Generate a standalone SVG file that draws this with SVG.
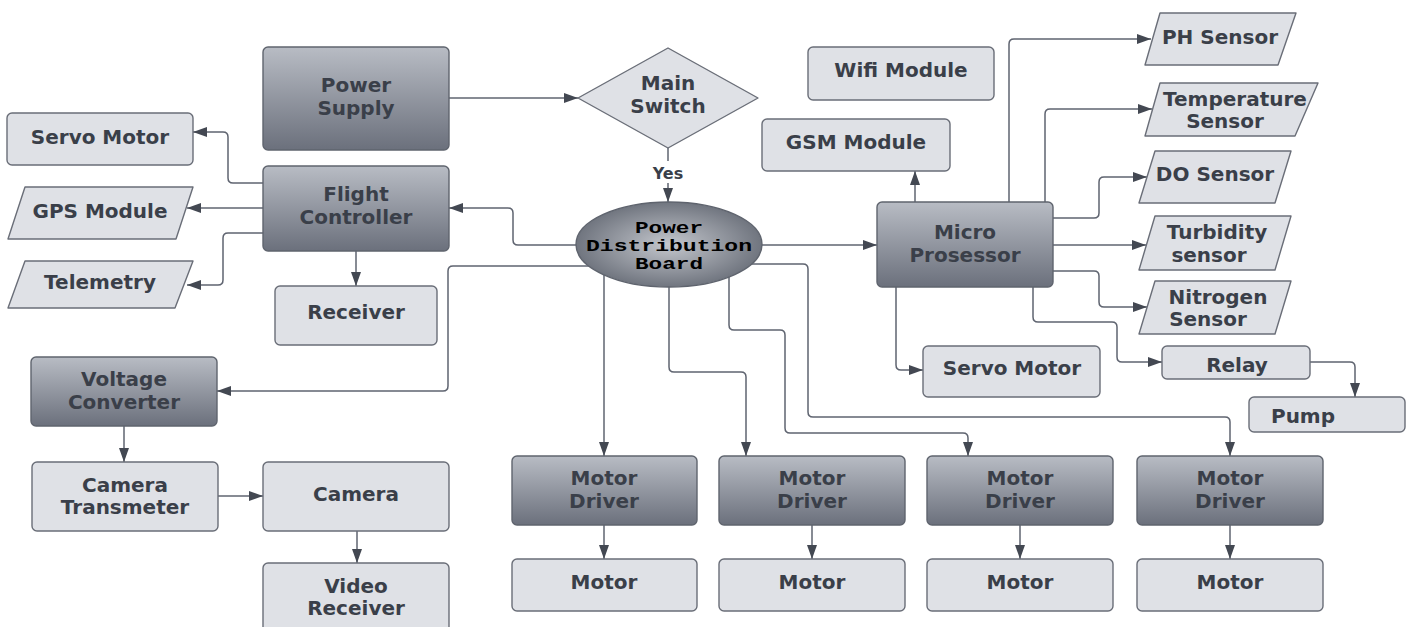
<svg xmlns="http://www.w3.org/2000/svg" width="1412" height="627" viewBox="0 0 1412 627">
  <defs>
    <linearGradient id="dark" x1="0" y1="0" x2="0" y2="1">
      <stop offset="0" stop-color="#b8bcc4"/>
      <stop offset="1" stop-color="#6b707c"/>
    </linearGradient>
    <radialGradient id="pdb" cx="0.5" cy="0.5" r="0.5">
      <stop offset="0" stop-color="#c4c7cd"/>
      <stop offset="1" stop-color="#70757f"/>
    </radialGradient>
    <marker id="arr" markerUnits="userSpaceOnUse" markerWidth="14" markerHeight="10" refX="14" refY="5" orient="auto">
      <path d="M0,0 L14,5 L0,10 z" fill="#434852"/>
    </marker>
    <style>
      .lt { fill: #dfe1e6; stroke: #6a6e78; stroke-width: 1.4; }
      .dk { fill: url(#dark); stroke: #5f646e; stroke-width: 1.4; }
      .t { font-family: "DejaVu Sans", "Liberation Sans", sans-serif; font-weight: bold; font-size: 20px; fill: #3a3f49; text-anchor: middle; }
      .m { font-family: "Liberation Mono", "DejaVu Sans Mono", monospace; font-weight: bold; font-size: 17px; fill: #000; text-anchor: middle; }
      .c { fill: none; stroke: #5f6470; stroke-width: 1.5; marker-end: url(#arr); }
    </style>
  </defs>
  <rect width="1412" height="627" fill="#ffffff"/>

  <!-- connectors -->
  <g id="connectors">
    <path class="c" d="M449,98 H578"/>
    <path class="c" d="M668,148 V202"/>
    <path class="c" d="M576,245 H518 Q513,245 513,240 V213 Q513,208 508,208 H449"/>
    <path class="c" d="M762,245 H877"/>
    <path class="c" d="M589,266 H453 Q448,266 448,271 V386 Q448,391 443,391 H217"/>
    <path class="c" d="M604,275 V456"/>
    <path class="c" d="M669,287 V367 Q669,372 674,372 H741 Q746,372 746,377 V456"/>
    <path class="c" d="M729,277 V325 Q729,330 734,330 H780 Q785,330 785,335 V428 Q785,433 790,433 H963 Q968,433 968,438 V456"/>
    <path class="c" d="M750,264 H803 Q808,264 808,269 V412 Q808,417 813,417 H1225 Q1230,417 1230,422 V456"/>
    <path class="c" d="M263,183 H233 Q228,183 228,178 V137 Q228,132 223,132 H193"/>
    <path class="c" d="M263,208 H187"/>
    <path class="c" d="M263,233 H228 Q223,233 223,238 V280 Q223,285 218,285 H187"/>
    <path class="c" d="M356,251 V286"/>
    <path class="c" d="M124,426 V462"/>
    <path class="c" d="M218,496 H263"/>
    <path class="c" d="M357,531 V563"/>
    <path class="c" d="M604,525 V559"/>
    <path class="c" d="M812,525 V559"/>
    <path class="c" d="M1020,525 V559"/>
    <path class="c" d="M1230,525 V559"/>
    <path class="c" d="M915,202 V171"/>
    <path class="c" d="M1009,202 V44 Q1009,39 1014,39 H1151"/>
    <path class="c" d="M1045,202 V114 Q1045,109 1050,109 H1152"/>
    <path class="c" d="M1053,218 H1094 Q1099,218 1099,213 V182 Q1099,177 1104,177 H1147"/>
    <path class="c" d="M1053,245 H1146"/>
    <path class="c" d="M1053,271 H1094 Q1099,271 1099,276 V302 Q1099,307 1104,307 H1147"/>
    <path class="c" d="M1033,287 V317 Q1033,322 1038,322 H1112 Q1117,322 1117,327 V357 Q1117,362 1122,362 H1162"/>
    <path class="c" d="M1310,362 H1350 Q1355,362 1355,367 V397"/>
    <path class="c" d="M896,287 V365 Q896,370 901,370 H923"/>
    <rect x="648" y="161" width="40" height="22" fill="#ffffff"/>
    <text x="668" y="179" class="t" style="font-size:16px">Yes</text>
  </g>

  <g id="power-supply">
    <rect class="dk" x="263" y="47" width="186" height="103" rx="5"/>
    <text class="t" x="356" y="92">Power</text>
    <text class="t" x="356" y="115">Supply</text>
  </g>
  <g id="main-switch">
    <path class="lt" d="M668,48 L758,98 L668,148 L578,98 Z" stroke-linejoin="round"/>
    <text class="t" x="668" y="90">Main</text>
    <text class="t" x="668" y="113">Switch</text>
  </g>
  <g id="wifi-module">
    <rect class="lt" x="808" y="47" width="186" height="53" rx="5"/>
    <text class="t" x="901" y="77">Wifi Module</text>
  </g>
  <g id="gsm-module">
    <rect class="lt" x="762" y="119" width="188" height="52" rx="5"/>
    <text class="t" x="856" y="149">GSM Module</text>
  </g>
  <g id="servo-motor-left">
    <rect class="lt" x="7" y="113" width="186" height="52" rx="5"/>
    <text class="t" x="100" y="144">Servo Motor</text>
  </g>
  <g id="flight-controller">
    <rect class="dk" x="263" y="166" width="186" height="85" rx="5"/>
    <text class="t" x="356" y="201">Flight</text>
    <text class="t" x="356" y="224">Controller</text>
  </g>
  <g id="gps-module">
    <path class="lt" d="M25,187 H193 L176,239 H8 Z" stroke-linejoin="round"/>
    <text class="t" x="100" y="218">GPS Module</text>
  </g>
  <g id="telemetry">
    <path class="lt" d="M25,261 H193 L175,308 H8 Z" stroke-linejoin="round"/>
    <text class="t" x="100" y="289">Telemetry</text>
  </g>
  <g id="receiver">
    <rect class="lt" x="275" y="286" width="162" height="59" rx="5"/>
    <text class="t" x="356" y="319">Receiver</text>
  </g>
  <g id="power-distribution-board">
    <ellipse cx="669" cy="244.5" rx="93" ry="42.5" fill="url(#pdb)" stroke="#5f646e" stroke-width="1.4"/>
    <text class="m" x="669" y="233" textLength="68" lengthAdjust="spacingAndGlyphs">Power</text>
    <text class="m" x="669" y="251" textLength="166" lengthAdjust="spacingAndGlyphs">Distribution</text>
    <text class="m" x="669" y="269" textLength="68" lengthAdjust="spacingAndGlyphs">Board</text>
  </g>
  <g id="micro-processor">
    <rect class="dk" x="877" y="202" width="176" height="85" rx="5"/>
    <text class="t" x="965" y="239">Micro</text>
    <text class="t" x="965" y="262">Prosessor</text>
  </g>
  <g id="ph-sensor">
    <path class="lt" d="M1160,13 H1296 L1278,65 H1145 Z" stroke-linejoin="round"/>
    <text class="t" x="1220" y="44">PH Sensor</text>
  </g>
  <g id="temperature-sensor">
    <path class="lt" d="M1160,83 H1318 L1295,136 H1145 Z" stroke-linejoin="round"/>
    <text class="t" x="1235" y="106">Temperature</text>
    <text class="t" x="1225" y="128">Sensor</text>
  </g>
  <g id="do-sensor">
    <path class="lt" d="M1155,151 H1291 L1275,203 H1139 Z" stroke-linejoin="round"/>
    <text class="t" x="1215" y="181">DO Sensor</text>
  </g>
  <g id="turbidity-sensor">
    <path class="lt" d="M1155,216 H1291 L1275,270 H1139 Z" stroke-linejoin="round"/>
    <text class="t" x="1217" y="239">Turbidity</text>
    <text class="t" x="1209" y="262">sensor</text>
  </g>
  <g id="nitrogen-sensor">
    <path class="lt" d="M1155,281 H1291 L1275,334 H1139 Z" stroke-linejoin="round"/>
    <text class="t" x="1218" y="304">Nitrogen</text>
    <text class="t" x="1208" y="326">Sensor</text>
  </g>
  <g id="relay">
    <rect class="lt" x="1162" y="346" width="148" height="33" rx="5"/>
    <text class="t" x="1237" y="372">Relay</text>
  </g>
  <g id="pump">
    <rect class="lt" x="1249" y="397" width="156" height="35" rx="5"/>
    <text class="t" x="1303" y="423">Pump</text>
  </g>
  <g id="servo-motor-right">
    <rect class="lt" x="923" y="346" width="177" height="51" rx="5"/>
    <text class="t" x="1012" y="375">Servo Motor</text>
  </g>
  <g id="voltage-converter">
    <rect class="dk" x="31" y="357" width="186" height="69" rx="5"/>
    <text class="t" x="124" y="386">Voltage</text>
    <text class="t" x="124" y="409">Converter</text>
  </g>
  <g id="camera-transmeter">
    <rect class="lt" x="32" y="462" width="186" height="69" rx="5"/>
    <text class="t" x="125" y="492">Camera</text>
    <text class="t" x="125" y="514">Transmeter</text>
  </g>
  <g id="camera">
    <rect class="lt" x="263" y="462" width="186" height="69" rx="5"/>
    <text class="t" x="356" y="501">Camera</text>
  </g>
  <g id="video-receiver">
    <rect class="lt" x="263" y="563" width="186" height="72" rx="5"/>
    <text class="t" x="356" y="593">Video</text>
    <text class="t" x="356" y="615">Receiver</text>
  </g>
  <g id="motor-driver-1">
    <rect class="dk" x="512" y="456" width="185" height="69" rx="5"/>
    <text class="t" x="604" y="485">Motor</text>
    <text class="t" x="604" y="508">Driver</text>
  </g>
  <g id="motor-driver-2">
    <rect class="dk" x="719" y="456" width="186" height="69" rx="5"/>
    <text class="t" x="812" y="485">Motor</text>
    <text class="t" x="812" y="508">Driver</text>
  </g>
  <g id="motor-driver-3">
    <rect class="dk" x="927" y="456" width="186" height="69" rx="5"/>
    <text class="t" x="1020" y="485">Motor</text>
    <text class="t" x="1020" y="508">Driver</text>
  </g>
  <g id="motor-driver-4">
    <rect class="dk" x="1137" y="456" width="186" height="69" rx="5"/>
    <text class="t" x="1230" y="485">Motor</text>
    <text class="t" x="1230" y="508">Driver</text>
  </g>
  <g id="motor-1">
    <rect class="lt" x="512" y="559" width="185" height="52" rx="5"/>
    <text class="t" x="604" y="589">Motor</text>
  </g>
  <g id="motor-2">
    <rect class="lt" x="719" y="559" width="186" height="52" rx="5"/>
    <text class="t" x="812" y="589">Motor</text>
  </g>
  <g id="motor-3">
    <rect class="lt" x="927" y="559" width="186" height="52" rx="5"/>
    <text class="t" x="1020" y="589">Motor</text>
  </g>
  <g id="motor-4">
    <rect class="lt" x="1137" y="559" width="186" height="52" rx="5"/>
    <text class="t" x="1230" y="589">Motor</text>
  </g>
</svg>
